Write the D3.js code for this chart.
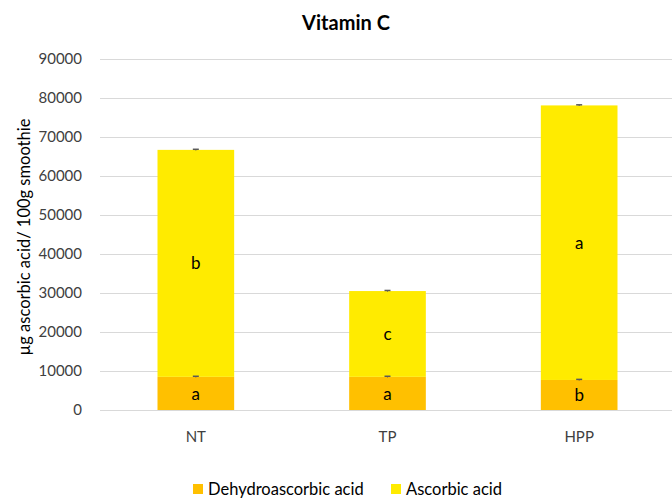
<!DOCTYPE html>
<html>
<head>
<meta charset="utf-8">
<script src="https://cdn.jsdelivr.net/npm/d3@7"></script>
<style>
  body { margin: 0; background: #fff; }
  text { font-family: Lato, "Open Sans", sans-serif; fill: #000; }
</style>
</head>
<body>
<div id="chart"></div>
<script>
// Data
var categories = ["NT", "TP", "HPP"];
var dehydro = [8500, 8500, 7700];
var ascorbic = [58200, 22000, 70400];
var dehydroErr = [150, 150, 150];
var ascorbicErr = [150, 150, 150];
var dehydroLetters = ["a", "a", "b"];
var ascorbicLetters = ["b", "c", "a"];
var yTicks = [0, 10000, 20000, 30000, 40000, 50000, 60000, 70000, 80000, 90000];
var seriesNames = ["Dehydroascorbic acid", "Ascorbic acid"];
var colors = ["#FFC000", "#FFEB00"];

var svgWidth = 672;
var svgHeight = 499;

var svg = d3.select("#chart")
  .append("svg")
  .attr("width", svgWidth)
  .attr("height", svgHeight);

var x = d3.scaleBand()
  .domain(categories)
  .range([100, 675])
  .paddingInner(0.6)
  .paddingOuter(0.3);

var y = d3.scaleLinear()
  .domain([0, 90000])
  .range([410, 59]);

// gridlines
svg.append("g")
  .selectAll("line")
  .data(yTicks)
  .enter()
  .append("line")
  .attr("x1", 100)
  .attr("x2", 675)
  .attr("y1", d => Math.round(y(d)) + 0.5)
  .attr("y2", d => Math.round(y(d)) + 0.5)
  .attr("stroke", "#d9d9d9")
  .attr("stroke-width", 1);

// y tick labels
svg.append("g")
  .selectAll("text")
  .data(yTicks)
  .enter()
  .append("text")
  .attr("x", 82)
  .attr("y", d => y(d))
  .attr("dy", "0.36em")
  .attr("text-anchor", "end")
  .attr("font-size", "15px")
  .style("fill", "#404040")
  .text(d => d);

// stacked bars
var rows = categories.map((c, i) => ({
  cat: c,
  d: dehydro[i], a: ascorbic[i],
  de: dehydroErr[i], ae: ascorbicErr[i],
  dl: dehydroLetters[i], al: ascorbicLetters[i]
}));

svg.append("g").selectAll("rect.dh")
  .data(rows)
  .enter()
  .append("rect")
  .attr("x", d => x(d.cat))
  .attr("width", x.bandwidth())
  .attr("y", d => y(d.d))
  .attr("height", d => y(0) - y(d.d))
  .attr("fill", colors[0]);

svg.append("g").selectAll("rect.as")
  .data(rows)
  .enter()
  .append("rect")
  .attr("x", d => x(d.cat))
  .attr("width", x.bandwidth())
  .attr("y", d => y(d.d + d.a))
  .attr("height", d => y(d.d) - y(d.d + d.a))
  .attr("fill", colors[1]);

// error bars (tiny)
function errBars(topFn, errFn) {
  var g = svg.append("g");
  rows.forEach(function(r) {
    var cx = x(r.cat) + x.bandwidth() / 2;
    var top = topFn(r), e = errFn(r);
    g.append("line")
      .attr("x1", cx).attr("x2", cx)
      .attr("y1", y(top - e)).attr("y2", y(top + e))
      .attr("stroke", "#595959").attr("stroke-width", 1);
    g.append("line")
      .attr("x1", cx - 3).attr("x2", cx + 3)
      .attr("y1", y(top + e)).attr("y2", y(top + e))
      .attr("stroke", "#595959").attr("stroke-width", 1.5);
  });
}
errBars(r => r.d, r => r.de);
errBars(r => r.d + r.a, r => r.ae);

// letters
svg.append("g").selectAll("text")
  .data(rows)
  .enter()
  .append("text")
  .attr("x", d => x(d.cat) + x.bandwidth() / 2)
  .attr("y", d => y(d.d / 2))
  .attr("dy", "0.36em")
  .attr("text-anchor", "middle")
  .attr("font-size", "17px")
  .text(d => d.dl);

svg.append("g").selectAll("text")
  .data(rows)
  .enter()
  .append("text")
  .attr("x", d => x(d.cat) + x.bandwidth() / 2)
  .attr("y", d => y(d.d + d.a / 2))
  .attr("dy", "0.36em")
  .attr("text-anchor", "middle")
  .attr("font-size", "17px")
  .text(d => d.al);

// category labels
svg.append("g").selectAll("text")
  .data(categories)
  .enter()
  .append("text")
  .attr("x", d => x(d) + x.bandwidth() / 2)
  .attr("y", 437)
  .attr("dy", "0.36em")
  .attr("text-anchor", "middle")
  .attr("font-size", "15px")
  .style("fill", "#404040")
  .text(d => d);

// title
svg.append("text")
  .attr("x", 346)
  .attr("y", 23)
  .attr("dy", "0.36em")
  .attr("text-anchor", "middle")
  .attr("font-size", "20px")
  .attr("font-weight", "bold")
  .text("Vitamin C");

// y axis label
svg.append("text")
  .attr("transform", "translate(24, 237) rotate(-90)")
  .attr("dy", "0.36em")
  .attr("text-anchor", "middle")
  .attr("font-size", "16.5px")
  .text("µg ascorbic acid/ 100g smoothie");

// legend
var legendX = [193, 391];
seriesNames.forEach(function(name, i) {
  svg.append("rect")
    .attr("x", legendX[i])
    .attr("y", 484)
    .attr("width", 10)
    .attr("height", 10)
    .attr("fill", colors[i]);
  svg.append("text")
    .attr("x", legendX[i] + 15)
    .attr("y", 489)
    .attr("dy", "0.36em")
    .attr("font-size", "16.5px")
    .text(name);
});
</script>
</body>
</html>
